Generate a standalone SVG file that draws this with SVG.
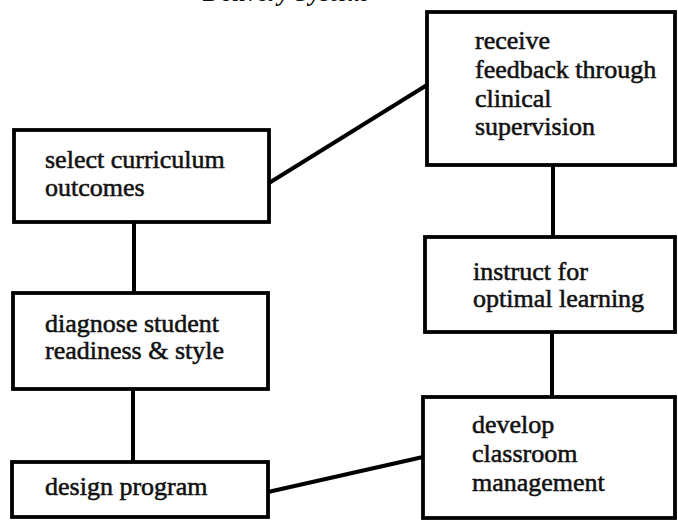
<svg xmlns="http://www.w3.org/2000/svg" width="678" height="522" viewBox="0 0 678 522">
  <style>
    .box { fill: #ffffff; stroke: #000000; stroke-width: 3.8; stroke-linejoin: miter; }
    .wire { fill: none; stroke: #000000; stroke-width: 4; stroke-linecap: butt; }
    .label { font-family: "Liberation Serif", "Times New Roman", serif; font-size: 26px; fill: #111111; stroke: #111111; stroke-width: 0.55; }
    .title { font-family: "Liberation Serif", "Times New Roman", serif; font-size: 25px; font-weight: bold; font-style: italic; fill: #111111; }
  </style>
  <rect x="0" y="0" width="678" height="522" fill="#ffffff"/>

  <!-- heading, trimmed by the top edge of the page -->
  <text class="title" x="203" y="1">Delivery System</text>

  <!-- connectors -->
  <g id="connectors">
    <line id="c-select-diagnose" class="wire" x1="134" y1="222" x2="134" y2="293"/>
    <line id="c-diagnose-design" class="wire" x1="133" y1="389" x2="133" y2="462"/>
    <line id="c-select-receive" class="wire" x1="269" y1="183" x2="427" y2="85"/>
    <line id="c-design-develop" class="wire" x1="268" y1="492" x2="423" y2="457"/>
    <line id="c-receive-instruct" class="wire" x1="553" y1="165" x2="553" y2="237"/>
    <line id="c-instruct-develop" class="wire" x1="552" y1="332" x2="552" y2="397"/>
  </g>

  <!-- left column -->
  <g id="select-outcomes">
    <rect class="box" x="14" y="130" width="255" height="92"/>
    <text class="label" x="45" y="168">select curriculum</text>
    <text class="label" x="45" y="196">outcomes</text>
  </g>
  <g id="diagnose-readiness">
    <rect class="box" x="13" y="293" width="255" height="96"/>
    <text class="label" x="45" y="332">diagnose student</text>
    <text class="label" x="45" y="359">readiness &amp; style</text>
  </g>
  <g id="design-program">
    <rect class="box" x="12" y="462" width="256" height="55"/>
    <text class="label" x="45" y="495">design program</text>
  </g>

  <!-- right column -->
  <g id="receive-feedback">
    <rect class="box" x="427" y="12" width="248" height="153"/>
    <text class="label" x="475" y="49">receive</text>
    <text class="label" x="475" y="78">feedback through</text>
    <text class="label" x="475" y="107">clinical</text>
    <text class="label" x="475" y="135">supervision</text>
  </g>
  <g id="instruct-learning">
    <rect class="box" x="425" y="237" width="250" height="95"/>
    <text class="label" x="473" y="280">instruct for</text>
    <text class="label" x="473" y="307">optimal learning</text>
  </g>
  <g id="develop-management">
    <rect class="box" x="423" y="397" width="252" height="121"/>
    <text class="label" x="472" y="433">develop</text>
    <text class="label" x="472" y="462">classroom</text>
    <text class="label" x="472" y="491">management</text>
  </g>
</svg>
